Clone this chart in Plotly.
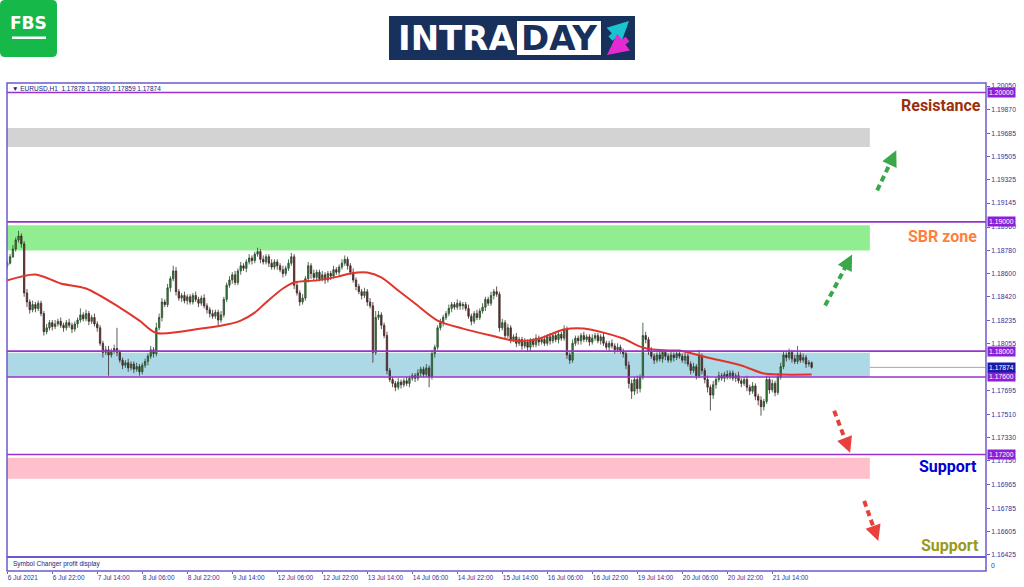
import plotly.graph_objects as go

# ------------------------------------------------------------------ data
symbol_header = "\u25BC EURUSD,H1  1.17878 1.17880 1.17859 1.17874"

x_tick_bars = [0, 16, 32, 48, 64, 80, 96, 112, 128, 144, 160, 176, 192, 208, 224, 240, 256, 272]
x_tick_labels = ["6 Jul 2021", "6 Jul 22:00", "7 Jul 14:00", "8 Jul 06:00", "8 Jul 22:00",
                 "9 Jul 14:00", "12 Jul 06:00", "12 Jul 22:00", "13 Jul 14:00", "14 Jul 06:00",
                 "14 Jul 22:00", "15 Jul 14:00", "16 Jul 06:00", "16 Jul 22:00", "19 Jul 14:00",
                 "20 Jul 06:00", "20 Jul 22:00", "21 Jul 14:00"]

y_tick_vals = [1.20050, 1.19870, 1.19685, 1.19505, 1.19325, 1.19145, 1.18960, 1.18780,
               1.18600, 1.18420, 1.18235, 1.18055, 1.17695, 1.17510, 1.17330, 1.17150,
               1.16965, 1.16785, 1.16605, 1.16425]

first_open = 1.1866
closes = [
    1.1868, 1.1873, 1.1879, 1.1886, 1.1889, 1.1883,
    1.1845, 1.1838, 1.1832, 1.1836, 1.1833, 1.1837,
    1.1829, 1.1815, 1.1818, 1.1822, 1.1819, 1.1821,
    1.1823, 1.1820, 1.1818, 1.1822, 1.1820, 1.1817,
    1.1821, 1.1824, 1.1828, 1.1825, 1.1829, 1.1823,
    1.1826, 1.1821, 1.1818, 1.1806, 1.1799, 1.1801,
    1.1797, 1.1800, 1.1802, 1.1799, 1.1793, 1.1789,
    1.1791, 1.1787, 1.1790, 1.1786, 1.1788, 1.1784,
    1.1789, 1.1792, 1.1796, 1.1801, 1.1798, 1.1818,
    1.1826, 1.1838, 1.1836, 1.1849, 1.1856, 1.1862,
    1.1846, 1.1841, 1.1843, 1.1839, 1.1842, 1.1838,
    1.1843, 1.1840, 1.1837, 1.1841, 1.1835, 1.1832,
    1.1829, 1.1827, 1.1830, 1.1824, 1.1828, 1.1840,
    1.1851, 1.1855, 1.1859, 1.1853, 1.1862, 1.1866,
    1.1864, 1.1869, 1.1872, 1.1870, 1.1875, 1.1877,
    1.1871, 1.1869, 1.1873, 1.1868, 1.1865, 1.1869,
    1.1866, 1.1863, 1.1860, 1.1864, 1.1868, 1.1873,
    1.1851, 1.1845, 1.1838, 1.1841, 1.1856, 1.1866,
    1.1860, 1.1857, 1.1861, 1.1856, 1.1859, 1.1855,
    1.1860, 1.1858, 1.1863, 1.1861, 1.1865, 1.1868,
    1.1871, 1.1866, 1.1861, 1.1855, 1.1850, 1.1846,
    1.1843, 1.1846, 1.1838, 1.1835, 1.1799, 1.1826,
    1.1828, 1.1820, 1.1812, 1.1785, 1.1778, 1.1775,
    1.1772, 1.1776, 1.1774, 1.1777, 1.1775, 1.1779,
    1.1781, 1.1779, 1.1783, 1.1786, 1.1782, 1.1787,
    1.1780, 1.1798, 1.1803, 1.1818, 1.1822, 1.1826,
    1.1829, 1.1833, 1.1836, 1.1834, 1.1837, 1.1835,
    1.1836, 1.1833, 1.1827, 1.1823, 1.1829, 1.1826,
    1.1831, 1.1834, 1.1840, 1.1837, 1.1843, 1.1846,
    1.1844, 1.1818, 1.1822, 1.1812, 1.1818, 1.1809,
    1.1811, 1.1806, 1.1809, 1.1804, 1.1807, 1.1803,
    1.1808, 1.1805, 1.1810, 1.1807, 1.1809, 1.1806,
    1.1811, 1.1808, 1.1812, 1.1809, 1.1813, 1.1810,
    1.1817, 1.1797, 1.1793, 1.1806, 1.1810, 1.1808,
    1.1812, 1.1809, 1.1811, 1.1807, 1.1810, 1.1812,
    1.1808, 1.1811, 1.1806, 1.1803, 1.1806, 1.1804,
    1.1801, 1.1803, 1.1800, 1.1798, 1.1789, 1.1775,
    1.1769, 1.1778, 1.1771, 1.1780, 1.1812, 1.1809,
    1.1800, 1.1796, 1.1793, 1.1797, 1.1794, 1.1799,
    1.1796, 1.1793, 1.1797, 1.1795, 1.1798, 1.1796,
    1.1793, 1.1796, 1.1790, 1.1785, 1.1788, 1.1781,
    1.1796, 1.1785, 1.1778, 1.1772, 1.1766, 1.1774,
    1.1778, 1.1781, 1.1779, 1.1782, 1.1780, 1.1783,
    1.1779, 1.1781, 1.1777, 1.1775, 1.1778, 1.1772,
    1.1769, 1.1773, 1.1765, 1.1762, 1.1757, 1.1761,
    1.1778, 1.1770, 1.1775, 1.1768, 1.1780, 1.1788,
    1.1797, 1.1795, 1.1799, 1.1794, 1.1792, 1.1797,
    1.1793, 1.1795, 1.1790, 1.1791, 1.17874,
]
upper_wick_pips = [
    2, 2, 3, 2, 4, 2,  2, 3, 2, 3, 2, 2,  2, 2, 3, 2, 2, 3,  2, 3, 2, 2, 3, 2,
    2, 2, 5, 2, 3, 2,  2, 3, 2, 2, 2, 3,  3, 2, 3, 16, 2, 2,  2, 3, 2, 2, 3, 2,
    2, 2, 2, 3, 2, 4,  3, 3, 2, 3, 2, 4,  3, 2, 2, 3, 2, 2,  2, 3, 2, 2, 3, 2,
    2, 3, 2, 2, 3, 2,  2, 3, 2, 3, 2, 3,  2, 2, 3, 2, 2, 3,  2, 3, 2, 2, 3, 2,
    2, 2, 3, 2, 3, 3,  2, 3, 2, 3, 2, 3,  2, 3, 2, 2, 3, 2,  2, 2, 3, 2, 2, 3,
    3, 2, 2, 3, 2, 2,  2, 3, 2, 3, 3, 5,  3, 2, 2, 3, 2, 2,  2, 3, 2, 2, 3, 2,
    2, 2, 3, 2, 2, 3,  2, 3, 2, 2, 3, 2,  2, 3, 2, 2, 3, 2,  2, 2, 3, 2, 2, 3,
    2, 3, 2, 2, 3, 2,  4, 2, 3, 2, 3, 2,  2, 3, 2, 2, 3, 2,  2, 2, 3, 2, 2, 3,
    2, 3, 2, 2, 3, 2,  3, 2, 2, 3, 2, 2,  2, 3, 2, 2, 3, 2,  2, 2, 3, 2, 2, 3,
    2, 3, 2, 2, 2, 3,  3, 2, 3, 2, 10, 3,  2, 3, 2, 2, 3, 2,  2, 2, 3, 2, 2, 3,
    2, 3, 2, 2, 3, 2,  5, 2, 2, 3, 2, 3,  2, 3, 2, 2, 3, 2,  2, 2, 3, 2, 2, 3,
    2, 3, 2, 2, 3, 2,  3, 2, 3, 2, 3, 3,  3, 2, 3, 2, 3, 7,  2, 3, 2, 2, 1,
]
lower_wick_pips = [
    2, 1, 1, 2, 2, 3,  3, 4, 3, 2, 3, 2,  2, 3, 2, 2, 3, 2,  2, 2, 3, 2, 2, 3,
    2, 3, 2, 2, 2, 3,  2, 2, 3, 2, 4, 2,  16, 2, 2, 3, 2, 3,  2, 3, 2, 3, 2, 3,
    2, 2, 3, 2, 3, 2,  2, 3, 2, 2, 3, 2,  3, 2, 3, 2, 3, 2,  2, 2, 3, 2, 2, 3,
    3, 2, 2, 4, 2, 2,  2, 2, 3, 2, 2, 3,  2, 3, 2, 3, 2, 2,  3, 2, 2, 3, 2, 2,
    3, 2, 3, 2, 2, 2,  3, 2, 3, 2, 2, 3,  4, 2, 3, 2, 2, 3,  2, 3, 2, 2, 3, 2,
    2, 3, 2, 2, 3, 2,  3, 2, 3, 2, 8, 2,  2, 3, 2, 3, 2, 3,  3, 2, 3, 2, 2, 3,
    2, 3, 2, 3, 2, 2,  8, 2, 3, 2, 2, 3,  2, 2, 3, 2, 2, 3,  3, 2, 2, 3, 2, 2,
    2, 2, 3, 2, 2, 3,  2, 3, 2, 3, 2, 3,  2, 3, 2, 3, 2, 3,  3, 2, 2, 3, 2, 2,
    2, 3, 2, 2, 3, 2,  2, 3, 3, 2, 2, 3,  3, 2, 2, 3, 2, 2,  2, 3, 2, 2, 3, 2,
    3, 2, 2, 3, 3, 4,  6, 3, 4, 3, 2, 3,  3, 2, 3, 2, 2, 3,  3, 2, 2, 3, 2, 2,
    2, 3, 2, 3, 2, 3,  2, 3, 3, 4, 12, 3,  3, 2, 2, 3, 2, 2,  2, 3, 2, 3, 2, 3,
    3, 2, 3, 4, 7, 3,  2, 3, 2, 3, 2, 2,  2, 3, 2, 3, 2, 2,  2, 2, 3, 2, 1,
]

# moving average (bar index, price)
ma_bars = [0, 10, 19, 28, 40, 47, 53, 69, 78, 83, 88, 92, 98, 102, 110, 118, 122, 128,
           133, 139, 145, 153, 162, 172, 180, 188, 198, 205, 212, 219, 226, 235, 239,
           249, 261, 269, 275, 286]
ma_prices = [1.18547, 1.18593, 1.18523, 1.18484, 1.18337, 1.18236, 1.18140, 1.18174,
             1.18205, 1.18236, 1.18298, 1.18376, 1.18484, 1.18531, 1.18547, 1.18578,
             1.18601, 1.18608, 1.18570, 1.18469, 1.18368, 1.18236, 1.18174, 1.18120,
             1.18081, 1.18089, 1.18167, 1.18174, 1.18143, 1.18097, 1.18027, 1.18004,
             1.18004, 1.17950, 1.17888, 1.17826, 1.17818, 1.17818]

# horizontal levels (price, label)
level_prices = [1.2000, 1.1900, 1.1800, 1.1780, 1.1720]
level_labels = ["1.20000", "1.19000", "1.18000", "1.17600", "1.17200"]
current_price = 1.17874

# zones (bottom, top, colour)
zone_bottoms = [1.19578, 1.18779, 1.17802, 1.17012]
zone_tops = [1.19725, 1.18973, 1.17988, 1.17174]
zone_colors = ["#d3d3d3", "#90ee90", "#add8e6", "#ffc0cb"]
zone_end_bar = 306.7

# dashed forecast arrows: (x0, y0, x1, y1, colour)
arrow_specs = [
    (290.8, 1.18353, 300.4, 1.18748, "#3aa84a"),
    (309.3, 1.19244, 316.1, 1.19553, "#3aa84a"),
    (294.0, 1.17539, 299.7, 1.17213, "#e8413c"),
    (304.7, 1.16841, 309.7, 1.16531, "#e8413c"),
]

# ------------------------------------------------------------------ build
n = len(closes)
bars = list(range(n))
opens = [first_open] + closes[:-1]
highs = [max(o, c) + u * 0.0001 for o, c, u in zip(opens, closes, upper_wick_pips)]
lows = [min(o, c) - d * 0.0001 for o, c, d in zip(opens, closes, lower_wick_pips)]

W, H = 1024, 587
L, R, T, B = 7, 986, 83, 571      # plot area pixels
SUB = 557                          # bottom of main window


def PX(x):
    return (x - L) / (R - L)


def PY(y):
    return (B - y) / (B - T)


FRAME = "#6a5acd"
LEVEL = "#9932cc"
NAVY = "#33339a"
SMALL = 6.8

fig = go.Figure()

fig.add_trace(go.Candlestick(
    x=bars, open=opens, high=highs, low=lows, close=closes,
    increasing=dict(fillcolor="#2e8b3a", line=dict(color="#2a4a2a", width=0.8)),
    decreasing=dict(fillcolor="#7a2424", line=dict(color="#3a2a2a", width=0.8)),
    whiskerwidth=0, showlegend=False, hoverinfo="skip",
))

fig.add_trace(go.Scatter(
    x=ma_bars, y=ma_prices, mode="lines",
    line=dict(color="#e0342c", width=2, shape="spline", smoothing=0.8),
    showlegend=False, hoverinfo="skip",
))

shapes = []
for b, t, c in zip(zone_bottoms, zone_tops, zone_colors):
    shapes.append(dict(type="rect", xref="x", yref="y", x0=-0.1, x1=zone_end_bar,
                       y0=b, y1=t, fillcolor=c, line=dict(width=0), layer="below"))
shapes.append(dict(type="line", xref="paper", yref="y", x0=0, x1=1,
                   y0=current_price, y1=current_price,
                   line=dict(color="#a8a8a8", width=1), layer="below"))
for p in level_prices:
    shapes.append(dict(type="line", xref="paper", yref="y", x0=0, x1=1, y0=p, y1=p,
                       line=dict(color=LEVEL, width=1.6)))
for x0, y0, x1, y1, c in arrow_specs:
    shapes.append(dict(type="line", xref="x", yref="y", x0=x0, y0=y0,
                       x1=x0 + (x1 - x0) * 0.8, y1=y0 + (y1 - y0) * 0.8,
                       line=dict(color=c, width=4, dash="6px,4px")))
shapes.append(dict(type="rect", xref="paper", yref="paper", x0=0, x1=1, y0=0, y1=1,
                   line=dict(color=FRAME, width=1.5)))
shapes.append(dict(type="line", xref="paper", yref="paper", x0=0, x1=1,
                   y0=PY(SUB), y1=PY(SUB), line=dict(color=FRAME, width=2)))

# FBS logo (rounded square)
r = 5
x0p, x1p, y0p, y1p = 0, 57, 0, 57
path = (f"M {PX(x0p + r)},{PY(y0p)} L {PX(x1p - r)},{PY(y0p)} "
        f"Q {PX(x1p)},{PY(y0p)} {PX(x1p)},{PY(y0p + r)} L {PX(x1p)},{PY(y1p - r)} "
        f"Q {PX(x1p)},{PY(y1p)} {PX(x1p - r)},{PY(y1p)} L {PX(x0p + r)},{PY(y1p)} "
        f"Q {PX(x0p)},{PY(y1p)} {PX(x0p)},{PY(y1p - r)} L {PX(x0p)},{PY(y0p + r)} "
        f"Q {PX(x0p)},{PY(y0p)} {PX(x0p + r)},{PY(y0p)} Z")
shapes.append(dict(type="path", xref="paper", yref="paper", path=path,
                   fillcolor="#16b84a", line=dict(width=0)))
shapes.append(dict(type="rect", xref="paper", yref="paper", x0=PX(12), x1=PX(46),
                   y0=PY(39), y1=PY(36.5), fillcolor="white", line=dict(width=0)))
# INTRADAY logo
shapes.append(dict(type="rect", xref="paper", yref="paper", x0=PX(389), x1=PX(635),
                   y0=PY(60), y1=PY(16), fillcolor="#17305c", line=dict(width=0)))
shapes.append(dict(type="rect", xref="paper", yref="paper", x0=PX(517), x1=PX(601),
                   y0=PY(55), y1=PY(21), fillcolor="white", line=dict(width=0)))

annotations = []
for p, lab in zip(level_prices, level_labels):
    annotations.append(dict(xref="paper", yref="y", x=1, y=p, xanchor="left", yanchor="middle",
                            xshift=1, text=lab, showarrow=False, bgcolor="#8e1fd8",
                            borderpad=1, font=dict(family="Liberation Sans", size=SMALL, color="white")))
annotations.append(dict(xref="paper", yref="y", x=1, y=current_price, xanchor="left",
                        yanchor="middle", xshift=1, text=f"{current_price:.5f}", showarrow=False,
                        bgcolor="#1a1aa6", borderpad=1,
                        font=dict(family="Liberation Sans", size=SMALL, color="white")))
# sub-window scale label
annotations.append(dict(xref="paper", yref="paper", x=1, y=PY(565), xanchor="left",
                        yanchor="middle", xshift=3, text="0", showarrow=False,
                        font=dict(family="Liberation Sans", size=SMALL, color=NAVY)))
for x0, y0, x1, y1, c in arrow_specs:
    annotations.append(dict(xref="x", yref="y", axref="x", ayref="y", x=x1, y=y1,
                            ax=x0 + (x1 - x0) * 0.72, ay=y0 + (y1 - y0) * 0.72,
                            text="", showarrow=True, arrowhead=2, arrowsize=0.9,
                            arrowwidth=3.5, arrowcolor=c))
for txt, ypix, col, xr in [("Resistance", 106, "#9c2f0c", 983), ("SBR zone", 237, "#ff7f3f", 979),
                           ("Support", 466, "#0000cc", 979), ("Support", 545, "#9a9a1a", 981)]:
    annotations.append(dict(xref="paper", yref="paper", x=PX(xr), y=PY(ypix), xanchor="right",
                            yanchor="middle", text=f"<b>{txt}</b>", showarrow=False,
                            font=dict(family="Roboto", size=16, color=col)))
annotations.append(dict(xref="paper", yref="paper", x=PX(10), y=PY(89), xanchor="left",
                        yanchor="middle", text=symbol_header, showarrow=False,
                        font=dict(family="Liberation Sans", size=6.5, color="#22227a")))
annotations.append(dict(xref="paper", yref="paper", x=PX(11), y=PY(564), xanchor="left",
                        yanchor="middle", text="Symbol Changer profit display", showarrow=False,
                        font=dict(family="Liberation Sans", size=6.5, color="#22227a")))
annotations.append(dict(xref="paper", yref="paper", x=PX(28.5), y=PY(23), xanchor="center",
                        yanchor="middle", text="<b>FBS</b>", showarrow=False,
                        font=dict(family="DejaVu Sans", size=17, color="white")))
annotations.append(dict(xref="paper", yref="paper", x=PX(456), y=PY(38), xanchor="center",
                        yanchor="middle", text="<b>INTRA</b>", showarrow=False,
                        font=dict(family="DejaVu Sans", size=34, color="white")))
annotations.append(dict(xref="paper", yref="paper", x=PX(559), y=PY(38), xanchor="center",
                        yanchor="middle", text="<b>DAY</b>", showarrow=False,
                        font=dict(family="DejaVu Sans", size=34, color="#17305c")))
annotations.append(dict(xref="paper", yref="paper", axref="pixel", ayref="pixel",
                        x=PX(629), y=PY(21), ax=-20, ay=19, text="", showarrow=True,
                        arrowhead=2, arrowsize=0.7, arrowwidth=6, arrowcolor="#19c3cf"))
annotations.append(dict(xref="paper", yref="paper", axref="pixel", ayref="pixel",
                        x=PX(607), y=PY(55), ax=22, ay=-17, text="", showarrow=True,
                        arrowhead=2, arrowsize=0.7, arrowwidth=6, arrowcolor="#e62ad2"))

fig.update_layout(
    width=W, height=H,
    margin=dict(l=L, r=W - R, t=T, b=H - B, pad=0, autoexpand=False),
    paper_bgcolor="white", plot_bgcolor="white",
    shapes=shapes, annotations=annotations,
    xaxis=dict(range=[-0.1, 348.0], tickvals=x_tick_bars, ticktext=x_tick_labels,
               ticks="outside", ticklen=2, tickcolor=FRAME, showgrid=False, zeroline=False,
               showline=False, anchor="free", position=0, ticklabelposition="outside right",
               tickangle=0, automargin=False,
               tickfont=dict(family="Liberation Sans", size=6.5, color=NAVY),
               rangeslider=dict(visible=False), fixedrange=True),
    yaxis=dict(range=[1.16407, 1.20074], domain=[PY(SUB), 1], side="right",
               tickvals=y_tick_vals, ticktext=[f"{v:.5f}" for v in y_tick_vals],
               ticks="outside", ticklen=3, tickcolor=FRAME, showgrid=False, zeroline=False,
               showline=False, automargin=False,
               tickfont=dict(family="Liberation Sans", size=SMALL, color=NAVY), fixedrange=True),
    showlegend=False,
)

fig.write_html("out.html", config={"displayModeBar": False})
with open("out.html", "r", encoding="utf-8") as f:
    html = f.read()
html = html.replace("<head>", "<head><style>body{margin:0;padding:0;}</style>", 1)
with open("out.html", "w", encoding="utf-8") as f:
    f.write(html)
